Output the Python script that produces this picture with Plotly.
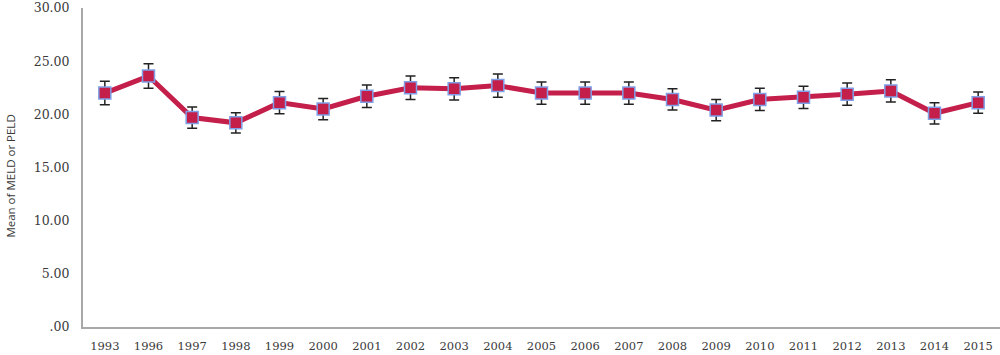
import plotly.graph_objects as go

years = ["1993", "1996", "1997", "1998", "1999", "2000", "2001", "2002", "2003", "2004", "2005",
         "2006", "2007", "2008", "2009", "2010", "2011", "2012", "2013", "2014", "2015"]
means = [22.0, 23.6, 19.7, 19.2, 21.1, 20.5, 21.7, 22.5, 22.4, 22.7, 22.0,
         22.0, 22.0, 21.4, 20.4, 21.4, 21.6, 21.9, 22.2, 20.1, 21.1]
errors = [1.1, 1.15, 1.0, 0.95, 1.05, 1.0, 1.05, 1.1, 1.05, 1.1, 1.05,
          1.05, 1.05, 1.0, 1.0, 1.05, 1.05, 1.05, 1.05, 1.0, 1.0]
ytick_vals = [0, 5, 10, 15, 20, 25, 30]
ytick_text = [".00", "5.00", "10.00", "15.00", "20.00", "25.00", "30.00"]

fig = go.Figure()
fig.add_trace(go.Scatter(
    x=years, y=means,
    mode="lines+markers",
    line=dict(color="#C41E4A", width=5),
    marker=dict(symbol="square", size=12, color="#C41E4A",
                line=dict(color="#7FA0E8", width=1.5)),
    error_y=dict(type="data", array=errors, visible=True,
                 color="#222222", thickness=1.5, width=5),
))

serif = "DejaVu Serif, Liberation Serif, serif"
sans = "Open Sans, Noto Sans, sans-serif"
fig.update_layout(
    width=1000, height=355,
    margin=dict(l=83, r=0, t=8, b=28, autoexpand=False),
    plot_bgcolor="white", paper_bgcolor="white",
    showlegend=False,
    font=dict(family=serif, size=11, color="#3a3a3a"),
    xaxis=dict(
        type="category", automargin=False,
        range=[-0.5, len(years) - 0.5],
        showgrid=False, zeroline=False,
        showline=True, linecolor="#A8A8A8", linewidth=2,
        ticks="", tickfont=dict(family=serif, size=11.5, color="#3a3a3a"),
        ticklabelstandoff=7,
    ),
    yaxis=dict(
        range=[0, 30], automargin=False,
        tickvals=ytick_vals, ticktext=ytick_text,
        showgrid=False, zeroline=False,
        showline=True, linecolor="#A8A8A8", linewidth=2,
        ticks="", tickfont=dict(family=serif, size=12.5, color="#3a3a3a"),
        ticklabelstandoff=9,
    ),
)
fig.add_annotation(
    text="Mean of MELD or PELD", xref="paper", yref="paper",
    x=-83/917, y=0.473, xanchor="left", yanchor="middle", xshift=1,
    textangle=-90, showarrow=False,
    font=dict(family=sans, size=11.5, color="#3a3a3a"),
)

fig.write_html("out.html", config={"displayModeBar": False},
               post_script="document.body.style.margin='0';document.body.style.overflow='hidden';")
